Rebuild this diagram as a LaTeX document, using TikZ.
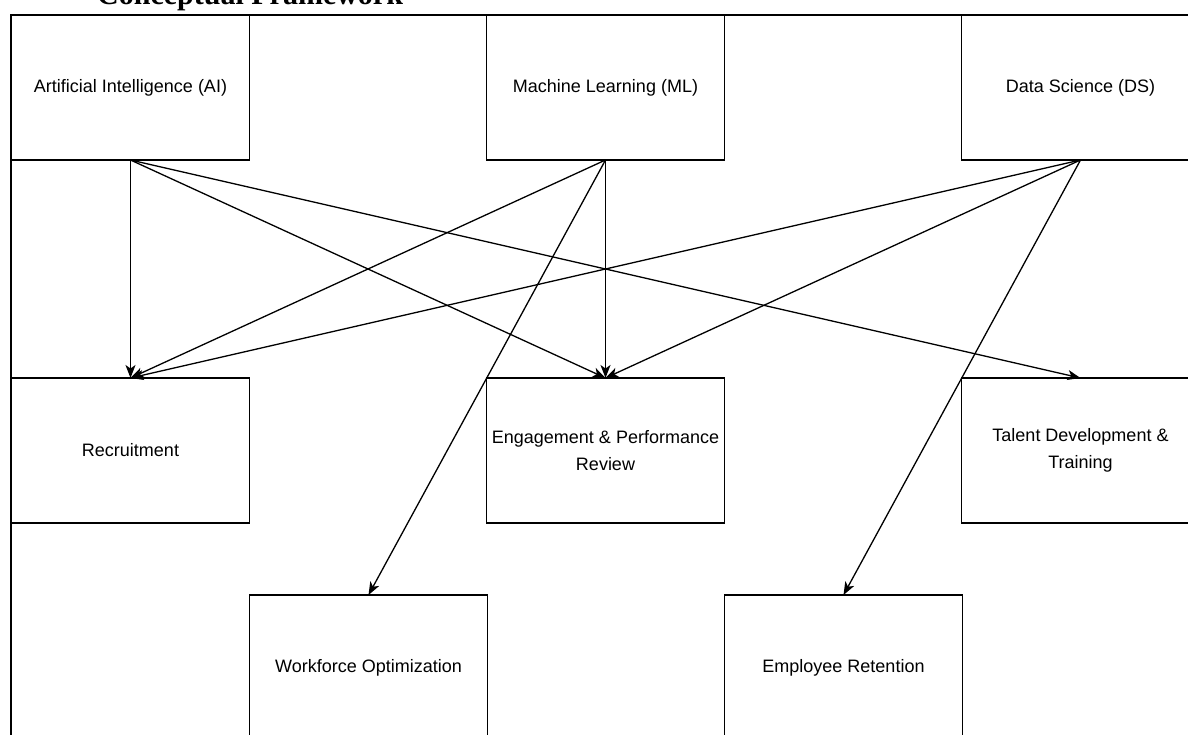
\documentclass[tikz,border=0pt]{standalone}
\usepackage{fontspec}
\setmainfont{Liberation Sans}
\newfontfamily\titlefont{Liberation Serif}
\usetikzlibrary{arrows.meta,positioning}

\begin{document}
\begin{tikzpicture}[x=1pt,y=-1pt,>={Stealth[length=13pt,width=10pt,inset=3.5pt]},
  node distance=72pt and 237pt,
  box/.style={draw,line width=1.4pt,align=center,inner sep=0pt,outer sep=0pt,
              minimum width=238pt,minimum height=145pt,font=\fontsize{18}{27}\selectfont},
  link/.style={->,line width=1.3pt}]
\useasboundingbox (0,0) rectangle (1188,735);
\node[anchor=base west,inner sep=0pt,font=\titlefont\bfseries\fontsize{30}{36}\selectfont] (title) at (97,5) {Conceptual Framework};
\draw[line width=2.2pt] (11,735) -- (11,15) -- (1188,15);
% technologies
\node[box] (ai) at (130.5,87.5) {Artificial Intelligence (AI)};
\node[box,right=of ai] (ml) {Machine Learning (ML)};
\node[box,right=of ml] (ds) {Data Science (DS)};
% HR functions
\node[box,below=218pt of ai] (recruit) {Recruitment};
\node[box,right=of recruit] (engage) {Engagement \& Performance\\Review};
\node[box,right=of engage] (talent) {Talent Development \&\\Training};
\node[box,below right=72pt and 0pt of recruit] (workforce) {Workforce Optimization};
\node[box,right=of workforce] (retention) {Employee Retention};
% links
\draw[link] (ai.south)--(recruit.north);
\draw[link] (ai.south)--(engage.north);
\draw[link] (ai.south)--(talent.north);
\draw[link] (ml.south)--(recruit.north);
\draw[link] (ml.south)--(engage.north);
\draw[link] (ml.south)--(workforce.north);
\draw[link] (ds.south)--(recruit.north);
\draw[link] (ds.south)--(engage.north);
\draw[link] (ds.south)--(retention.north);
\end{tikzpicture}
\end{document}
